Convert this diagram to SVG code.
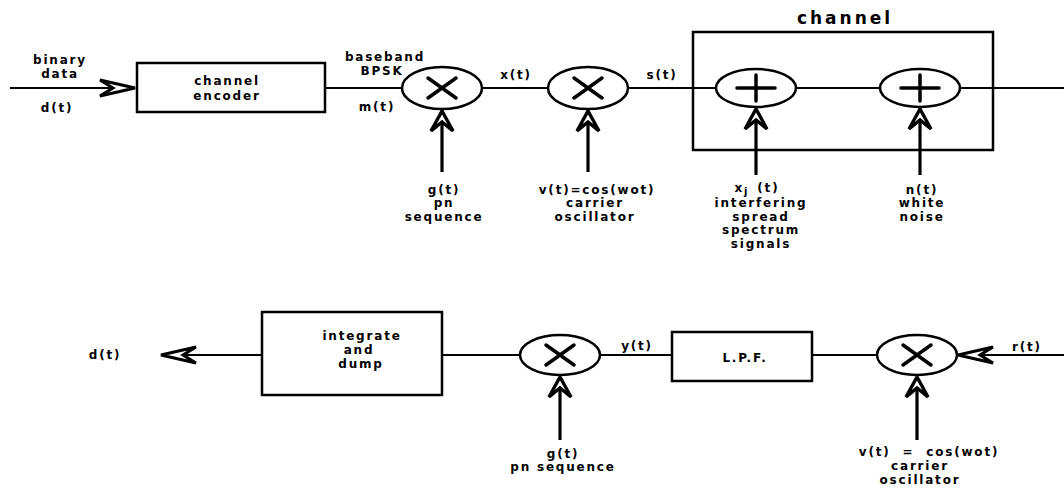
<svg xmlns="http://www.w3.org/2000/svg" width="1064" height="493" viewBox="0 0 1064 493">
<style>
text{font-family:"DejaVu Sans","Liberation Sans",Arial,sans-serif;font-weight:bold;font-size:12px;letter-spacing:1.8px;fill:#000;text-anchor:middle}
.box{fill:#fff;stroke:#000;stroke-width:2.5}
.op{fill:#fff;stroke:#000;stroke-width:2.5}
.sym{stroke:#000;stroke-width:3.5;fill:none;stroke-linecap:round}
.w{stroke:#000;stroke-width:2;fill:none}
.a{stroke:#000;stroke-width:3.2;fill:none}
.big{font-size:17px;letter-spacing:3px}
</style>
<defs>
<marker id="ah" markerUnits="userSpaceOnUse" orient="auto" overflow="visible" refX="0" refY="0" markerWidth="24" markerHeight="24">
<path d="M -20 -11 L 0 0 L -20 11 L -11 0 Z" fill="#fff" stroke="#000" stroke-width="3.4" stroke-linejoin="miter"/>
</marker>
<marker id="ahh" markerUnits="userSpaceOnUse" orient="auto" overflow="visible" refX="0" refY="0" markerWidth="40" markerHeight="20">
<path d="M -35 -8 L 0 0 L -35 8 L -22 0 Z" fill="#fff" stroke="#000" stroke-width="3" stroke-linejoin="miter"/>
</marker>
</defs>
<rect width="1064" height="493" fill="#fff"/>
<g id="connectors">
<line class="w" x1="10" y1="88" x2="135" y2="88" marker-end="url(#ahh)"/>
<line class="w" x1="325" y1="88" x2="402" y2="88"/>
<line class="w" x1="482" y1="88" x2="548" y2="88"/>
<line class="w" x1="628" y1="88" x2="716" y2="88"/>
<line class="w" x1="796" y1="88" x2="880" y2="88"/>
<line class="w" x1="960" y1="88" x2="1064" y2="88"/>
<line class="a" x1="442" y1="172" x2="442" y2="111" marker-end="url(#ah)"/>
<line class="a" x1="588" y1="172" x2="588" y2="111" marker-end="url(#ah)"/>
<line class="a" x1="756" y1="175" x2="756" y2="109" marker-end="url(#ah)"/>
<line class="a" x1="920" y1="175" x2="920" y2="109" marker-end="url(#ah)"/>
<line class="w" x1="262" y1="355" x2="161" y2="355" marker-end="url(#ahh)"/>
<line class="w" x1="442" y1="355" x2="520" y2="355"/>
<line class="w" x1="600" y1="355" x2="672" y2="355"/>
<line class="w" x1="812" y1="355" x2="877" y2="355"/>
<line class="w" x1="1064" y1="355" x2="958" y2="355" marker-end="url(#ahh)"/>
<line class="a" x1="560" y1="440" x2="560" y2="377" marker-end="url(#ah)"/>
<line class="a" x1="917" y1="440" x2="917" y2="377" marker-end="url(#ah)"/>
</g>
<g id="channel">
<rect x="693" y="32" width="300" height="118" fill="none" stroke="#000" stroke-width="2.5"/>
<text class="big" x="845" y="24">channel</text>
</g>
<g id="input">
<text x="60" y="64">binary</text>
<text x="60" y="78">data</text>
<text x="57" y="112">d(t)</text>
</g>
<g id="encoder">
<rect class="box" x="137" y="63" width="188" height="49"/>
<text x="227" y="85">channel</text>
<text x="227" y="100">encoder</text>
</g>
<g id="mix1">
<text x="385" y="61">baseband</text>
<text x="382" y="75">BPSK</text>
<text x="377" y="111">m(t)</text>
<ellipse class="op" cx="442" cy="88" rx="40" ry="21"/>
<path class="sym" d="M428 78 L456 98 M456 78 L428 98"/>
<text x="444" y="194">g(t)</text>
<text x="444" y="207">pn</text>
<text x="444" y="221">sequence</text>
</g>
<g id="mix2">
<text x="516" y="79">x(t)</text>
<ellipse class="op" cx="588" cy="88" rx="40" ry="21"/>
<path class="sym" d="M574 78 L602 98 M602 78 L574 98"/>
<text x="597" y="194">v(t)=cos(wot)</text>
<text x="595" y="207">carrier</text>
<text x="595" y="221">oscillator</text>
</g>
<g id="sum1">
<text x="662" y="79">s(t)</text>
<ellipse class="op" cx="756" cy="88" rx="40" ry="19"/>
<path class="sym" d="M737 88 L775 88 M756 75 L756 101"/>
<text x="757" y="192">x<tspan font-size="10" dy="3">j</tspan><tspan dy="-3" dx="8">(t)</tspan></text>
<text x="761" y="207">interfering</text>
<text x="761" y="221">spread</text>
<text x="761" y="234">spectrum</text>
<text x="761" y="248">signals</text>
</g>
<g id="sum2">
<ellipse class="op" cx="920" cy="88" rx="40" ry="19"/>
<path class="sym" d="M901 88 L939 88 M920 75 L920 101"/>
<text x="922" y="194">n(t)</text>
<text x="922" y="207">white</text>
<text x="922" y="221">noise</text>
</g>
<g id="output">
<text x="105" y="359">d(t)</text>
</g>
<g id="integrate">
<rect class="box" x="262" y="312" width="180" height="83"/>
<text x="362" y="340">integrate</text>
<text x="359" y="354">and</text>
<text x="361" y="368">dump</text>
</g>
<g id="mix3">
<ellipse class="op" cx="560" cy="355" rx="40" ry="20"/>
<path class="sym" d="M546 345 L574 365 M574 345 L546 365"/>
<text x="563" y="458">g(t)</text>
<text x="563" y="471">pn sequence</text>
</g>
<g id="lpf">
<text x="637" y="350">y(t)</text>
<rect class="box" x="672" y="332" width="140" height="49"/>
<text x="745" y="362">L.P.F.</text>
</g>
<g id="mix4">
<ellipse class="op" cx="917" cy="355" rx="40" ry="20"/>
<path class="sym" d="M903 345 L931 365 M931 345 L903 365"/>
<text x="1027" y="351">r(t)</text>
<text x="929" y="456" xml:space="preserve">v(t)  =  cos(wot)</text>
<text x="920" y="470">carrier</text>
<text x="920" y="484">oscillator</text>
</g>
</svg>
